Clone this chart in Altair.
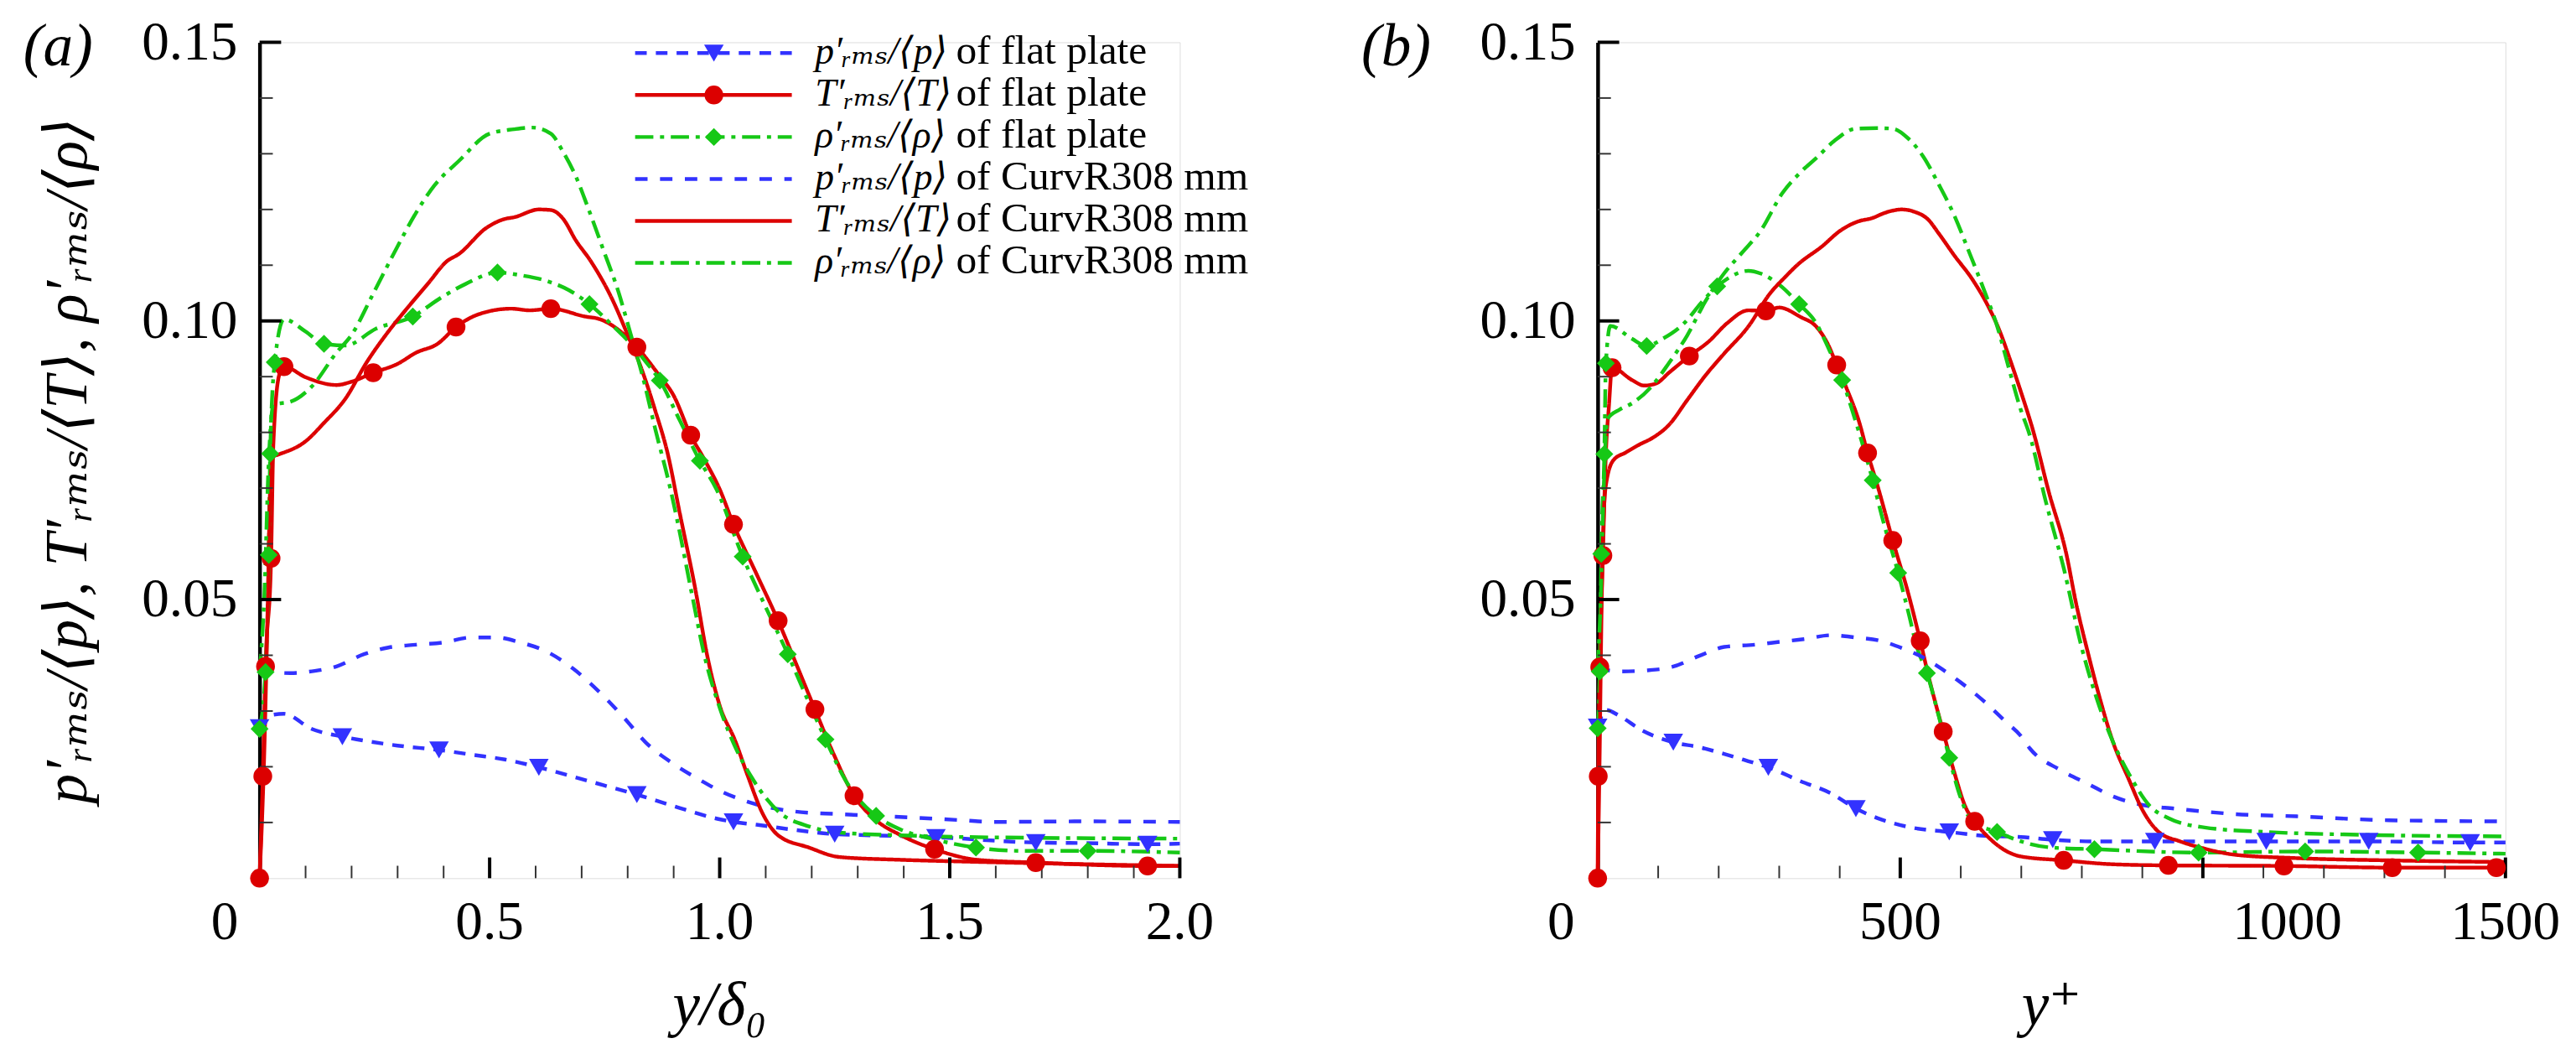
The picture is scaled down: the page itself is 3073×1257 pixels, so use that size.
import altair as alt
import pandas as pd

# ---------------- series meta ----------------
SERIES = ["p flat", "T flat", "rho flat", "p curv", "T curv", "rho curv"]
COLORS = ["#3232ff", "#dc0000", "#16c816", "#3232ff", "#dc0000", "#16c816"]
DASHES = [[14, 11], [1, 0], [22, 8, 5, 8], [15, 15], [1, 0], [22, 8, 5, 8]]
WIDTHS = [4.5, 4.5, 4.5, 3.0, 3.0, 3.0]
FLAT = ["p flat", "T flat", "rho flat"]
SHAPES = ["triangle-down", "circle", "diamond"]
MSIZES = [560, 470, 400]
LEG_MATH = ["p′ᵣₘₛ/⟨p⟩", "T′ᵣₘₛ/⟨T⟩", "ρ′ᵣₘₛ/⟨ρ⟩", "p′ᵣₘₛ/⟨p⟩", "T′ᵣₘₛ/⟨T⟩", "ρ′ᵣₘₛ/⟨ρ⟩"]
LEG_DESC = ["of flat plate", "of flat plate", "of flat plate",
            "of CurvR308 mm", "of CurvR308 mm", "of CurvR308 mm"]

# ---------------- panel (a): y/delta0 ----------------
A_P_FLAT_X = [0.0, 0.02, 0.053, 0.113, 0.18, 0.233, 0.3, 0.39, 0.467, 0.533, 0.607, 0.7, 0.747, 0.82, 0.913, 0.993, 1.03, 1.08, 1.16, 1.25, 1.327, 1.46, 1.687, 1.79, 1.93, 2.0]
A_P_FLAT_Y = [0.027, 0.0292, 0.0295, 0.0268, 0.0254, 0.0246, 0.0238, 0.023, 0.0221, 0.0213, 0.0199, 0.0178, 0.0167, 0.015, 0.0126, 0.0107, 0.0101, 0.0096, 0.0087, 0.0079, 0.0077, 0.0074, 0.0064, 0.0063, 0.0061, 0.0062]
A_P_FLAT_MX = [0.0, 0.18, 0.39, 0.607, 0.82, 1.03, 1.25, 1.47, 1.687, 1.93]
A_P_FLAT_MY = [0.027, 0.0254, 0.023, 0.0199, 0.015, 0.0101, 0.0079, 0.0073, 0.0064, 0.0061]

A_T_FLAT_X = [0.0, 0.007, 0.013, 0.025, 0.03, 0.043, 0.053, 0.1, 0.167, 0.2, 0.247, 0.3, 0.34, 0.387, 0.427, 0.473, 0.547, 0.587, 0.633, 0.707, 0.74, 0.78, 0.82, 0.867, 0.9, 0.937, 0.967, 1.0, 1.03, 1.08, 1.127, 1.167, 1.207, 1.247, 1.292, 1.34, 1.394, 1.467, 1.56, 1.687, 1.93, 2.0]
A_T_FLAT_Y = [0.0, 0.0183, 0.038, 0.0574, 0.078, 0.0904, 0.0918, 0.0899, 0.0885, 0.0891, 0.0907, 0.0923, 0.0943, 0.0959, 0.0989, 0.1011, 0.1022, 0.1019, 0.1022, 0.1008, 0.1003, 0.0984, 0.0953, 0.0904, 0.0866, 0.0795, 0.0751, 0.0698, 0.0635, 0.0546, 0.0462, 0.0383, 0.0303, 0.0224, 0.0148, 0.0104, 0.0077, 0.0052, 0.0033, 0.0028, 0.0022, 0.0022]
A_T_FLAT_MX = [0.0, 0.007, 0.013, 0.025, 0.053, 0.247, 0.427, 0.633, 0.82, 0.937, 1.03, 1.127, 1.207, 1.292, 1.467, 1.687, 1.93]
A_T_FLAT_MY = [0.0, 0.0183, 0.038, 0.0574, 0.0918, 0.0907, 0.0989, 0.1022, 0.0953, 0.0795, 0.0635, 0.0462, 0.0303, 0.0148, 0.0052, 0.0028, 0.0022]

A_R_FLAT_X = [0.0, 0.013, 0.02, 0.023, 0.033, 0.053, 0.1, 0.14, 0.187, 0.253, 0.333, 0.393, 0.447, 0.517, 0.567, 0.627, 0.673, 0.717, 0.767, 0.807, 0.84, 0.87, 0.913, 0.957, 0.993, 1.05, 1.094, 1.148, 1.187, 1.23, 1.274, 1.307, 1.34, 1.394, 1.46, 1.557, 1.66, 1.8, 2.0]
A_R_FLAT_Y = [0.0268, 0.037, 0.058, 0.0762, 0.0926, 0.1003, 0.0981, 0.0959, 0.0956, 0.0986, 0.1008, 0.1041, 0.1066, 0.1087, 0.1082, 0.1071, 0.1055, 0.103, 0.0992, 0.0959, 0.0926, 0.0893, 0.0822, 0.0749, 0.0698, 0.0577, 0.0497, 0.0402, 0.0328, 0.0249, 0.0175, 0.0137, 0.0112, 0.0087, 0.0071, 0.0055, 0.0049, 0.0049, 0.0046]
A_R_FLAT_MX = [0.0, 0.013, 0.02, 0.023, 0.033, 0.14, 0.333, 0.517, 0.717, 0.87, 0.957, 1.05, 1.148, 1.23, 1.34, 1.557, 1.8]
A_R_FLAT_MY = [0.0268, 0.037, 0.058, 0.0762, 0.0926, 0.0959, 0.1008, 0.1087, 0.103, 0.0893, 0.0749, 0.0577, 0.0402, 0.0249, 0.0112, 0.0055, 0.0049]

A_P_CURV_X = [0.0, 0.067, 0.12, 0.167, 0.227, 0.28, 0.34, 0.4, 0.46, 0.513, 0.567, 0.623, 0.68, 0.74, 0.793, 0.84, 0.9, 0.96, 1.0, 1.074, 1.16, 1.26, 1.39, 1.527, 1.594, 1.79, 2.0]
A_P_CURV_Y = [0.0372, 0.0368, 0.0372, 0.038, 0.0402, 0.0414, 0.0419, 0.0423, 0.0432, 0.0432, 0.0423, 0.0407, 0.0377, 0.0333, 0.0287, 0.0243, 0.0205, 0.0175, 0.0157, 0.0134, 0.012, 0.0115, 0.011, 0.0104, 0.0101, 0.0102, 0.0101]

A_T_CURV_X = [0.0, 0.01, 0.018, 0.023, 0.03, 0.04, 0.1, 0.14, 0.187, 0.233, 0.28, 0.32, 0.367, 0.407, 0.433, 0.493, 0.533, 0.553, 0.607, 0.633, 0.66, 0.687, 0.72, 0.767, 0.8, 0.827, 0.86, 0.887, 0.913, 0.947, 0.973, 1.0, 1.034, 1.06, 1.094, 1.127, 1.194, 1.26, 1.394, 1.527, 2.0]
A_T_CURV_Y = [0.0, 0.022, 0.05, 0.0698, 0.0757, 0.076, 0.0784, 0.0817, 0.0861, 0.0926, 0.0981, 0.1022, 0.1068, 0.1107, 0.112, 0.1167, 0.1183, 0.1186, 0.12, 0.1199, 0.1183, 0.1145, 0.1107, 0.1038, 0.0975, 0.0921, 0.0839, 0.0762, 0.0656, 0.0519, 0.0399, 0.031, 0.0246, 0.0186, 0.0115, 0.0077, 0.0055, 0.0038, 0.0033, 0.003, 0.0022]

A_R_CURV_X = [0.0, 0.01, 0.02, 0.03, 0.067, 0.113, 0.167, 0.2, 0.247, 0.3, 0.34, 0.38, 0.433, 0.5, 0.553, 0.593, 0.633, 0.66, 0.687, 0.713, 0.747, 0.78, 0.807, 0.833, 0.86, 0.893, 0.907, 0.94, 0.967, 1.0, 1.034, 1.074, 1.127, 1.194, 1.26, 1.394, 1.527, 2.0]
A_R_CURV_Y = [0.037, 0.05, 0.075, 0.085, 0.0855, 0.0882, 0.0943, 0.0975, 0.1049, 0.1134, 0.1194, 0.1243, 0.1287, 0.1336, 0.1344, 0.1347, 0.1336, 0.1303, 0.126, 0.1205, 0.1128, 0.1052, 0.0975, 0.0899, 0.0806, 0.0698, 0.0645, 0.0508, 0.0399, 0.0306, 0.0235, 0.0175, 0.012, 0.0093, 0.0082, 0.0077, 0.0074, 0.0071]

# ---------------- panel (b): y+ ----------------
B_P_FLAT_X = [0, 13.7, 36.5, 72, 125, 168, 209, 249, 282, 335.5, 386, 426.7, 462, 513, 581, 640, 699.5, 752, 826, 920.7, 1104.7, 1274, 1441.7, 1500]
B_P_FLAT_Y = [0.0271, 0.0302, 0.0291, 0.0266, 0.0244, 0.0235, 0.0223, 0.021, 0.0199, 0.0174, 0.0152, 0.0125, 0.0108, 0.0092, 0.0083, 0.0076, 0.0074, 0.0069, 0.0066, 0.0066, 0.0066, 0.0066, 0.0064, 0.0064]
B_P_FLAT_MX = [0, 125, 282, 426.7, 581, 752, 920.7, 1104.7, 1274, 1441.7]
B_P_FLAT_MY = [0.0271, 0.0244, 0.0199, 0.0125, 0.0083, 0.0069, 0.0066, 0.0066, 0.0066, 0.0064]

B_T_FLAT_X = [0, 1, 3.5, 8.6, 13.6, 18.6, 23.8, 56.7, 77, 97, 117.7, 151.5, 183.5, 214, 249, 278, 300, 335.5, 361, 381, 395, 411, 432, 446, 462, 487.6, 513, 533, 548, 571, 589, 609, 623, 650, 699.6, 770, 851, 943, 1134, 1313, 1485, 1500]
B_T_FLAT_Y = [0, 0.0183, 0.0379, 0.0579, 0.0763, 0.0847, 0.0916, 0.0894, 0.0884, 0.0888, 0.0907, 0.0937, 0.0963, 0.0996, 0.1019, 0.1018, 0.1024, 0.1007, 0.099, 0.0957, 0.0921, 0.088, 0.0819, 0.0763, 0.0706, 0.0606, 0.0512, 0.0426, 0.0357, 0.0263, 0.0191, 0.0125, 0.0102, 0.0069, 0.0039, 0.0032, 0.0025, 0.0023, 0.0022, 0.0019, 0.0019, 0.0019]
B_T_FLAT_MX = [0, 1, 3.5, 8.6, 23.8, 151.5, 278, 395, 446, 487.6, 533, 571, 623, 770, 943, 1134, 1313, 1485]
B_T_FLAT_MY = [0, 0.0183, 0.0379, 0.0579, 0.0916, 0.0937, 0.1018, 0.0921, 0.0763, 0.0606, 0.0426, 0.0263, 0.0102, 0.0032, 0.0023, 0.0022, 0.0019, 0.0019]

B_R_FLAT_X = [0, 3.5, 6, 11, 13.6, 21, 56.7, 81, 107.4, 143, 173, 197.5, 219, 249, 269.5, 300, 333, 361, 381, 404, 426.5, 442, 454.5, 472, 496.6, 513, 528, 544, 563.6, 581, 599, 619, 660, 699.5, 750, 820.8, 993, 1169, 1355.6, 1500]
B_R_FLAT_Y = [0.0269, 0.0371, 0.0582, 0.0761, 0.0924, 0.0991, 0.0968, 0.0955, 0.0968, 0.0996, 0.1035, 0.1062, 0.1079, 0.109, 0.1085, 0.1065, 0.103, 0.0996, 0.0952, 0.0894, 0.0819, 0.0763, 0.0714, 0.064, 0.0548, 0.0479, 0.0413, 0.0368, 0.0291, 0.0216, 0.0147, 0.0102, 0.0083, 0.0066, 0.0055, 0.0052, 0.0046, 0.0048, 0.0046, 0.0044]
B_R_FLAT_MX = [0, 3.5, 6, 11, 13.6, 81, 197.5, 333, 404, 454.5, 496.6, 544, 581, 660, 820.8, 993, 1169, 1355.6]
B_R_FLAT_MY = [0.0269, 0.0371, 0.0582, 0.0761, 0.0924, 0.0955, 0.1062, 0.103, 0.0894, 0.0714, 0.0548, 0.0368, 0.0216, 0.0083, 0.0052, 0.0046, 0.0048, 0.0046]

B_P_CURV_X = [0, 36.5, 82, 122.6, 168, 209, 259.5, 300, 340.6, 386, 426.7, 467, 502.6, 538, 563.6, 599, 640, 675, 699.5, 714, 765, 810.7, 851, 902, 952.6, 1054, 1155, 1307, 1500]
B_P_CURV_Y = [0.0377, 0.0371, 0.0373, 0.0379, 0.0399, 0.0415, 0.0419, 0.0424, 0.0429, 0.0436, 0.0432, 0.0426, 0.0413, 0.0396, 0.0379, 0.0352, 0.0316, 0.028, 0.0255, 0.0233, 0.0194, 0.0169, 0.0147, 0.0131, 0.0125, 0.0115, 0.0111, 0.0104, 0.0102]

B_T_CURV_X = [0, 3, 6, 9, 13.7, 26, 46.6, 67, 92, 117.5, 148, 178, 208.7, 249, 284.6, 310, 330.5, 371, 401, 431.6, 452, 477.4, 502.6, 523, 546, 563.6, 589, 619.5, 645, 665, 680, 699, 719, 745, 775, 790, 810.7, 831, 851, 876.6, 902, 927, 962.7, 1003, 1054, 1155, 1307, 1500]
B_T_CURV_Y = [0, 0.02, 0.045, 0.062, 0.0706, 0.075, 0.0764, 0.0777, 0.0791, 0.0813, 0.0858, 0.0902, 0.0941, 0.099, 0.1049, 0.1079, 0.1101, 0.1134, 0.1162, 0.1179, 0.1184, 0.1195, 0.12, 0.1196, 0.1182, 0.1157, 0.1118, 0.1074, 0.1027, 0.098, 0.0935, 0.0874, 0.0805, 0.0695, 0.0579, 0.0496, 0.0402, 0.0318, 0.0246, 0.018, 0.0119, 0.0083, 0.0066, 0.0053, 0.0042, 0.0036, 0.0032, 0.0029]

B_R_CURV_X = [0, 5, 10, 16, 36.5, 56.7, 87, 117.5, 148, 178, 208.7, 239, 269.5, 305, 335.5, 361, 391, 426.6, 462, 487.5, 512.6, 538, 563.6, 589, 614, 640, 660, 680, 699, 714, 740, 770, 800, 826, 851, 881.6, 912, 942.5, 1003, 1105, 1257, 1500]
B_R_CURV_Y = [0.0377, 0.05, 0.07, 0.0824, 0.0841, 0.0852, 0.088, 0.0924, 0.0974, 0.1035, 0.1085, 0.1123, 0.1162, 0.1229, 0.1267, 0.1292, 0.1323, 0.1345, 0.1346, 0.1345, 0.1328, 0.1295, 0.1245, 0.119, 0.1123, 0.1051, 0.0991, 0.0913, 0.0841, 0.0795, 0.0678, 0.0557, 0.0413, 0.0318, 0.0246, 0.018, 0.013, 0.0108, 0.0091, 0.0083, 0.0078, 0.0075]

# ---------------- ticks and tick labels ----------------
A_XMAJ = [0.5, 1.0, 1.5, 2.0]
A_XMIN = [0.1, 0.2, 0.3, 0.4, 0.6, 0.7, 0.8, 0.9, 1.1, 1.2, 1.3, 1.4, 1.6, 1.7, 1.8, 1.9]
A_XLAB = [0.0, 0.5, 1.0, 1.5, 2.0]
# label groups: (values, texts, pixel shift) -- the original draws "0" left of the axis
A_XLABELS = [([0.5, 1.0, 1.5, 2.0], ["0.5", "1.0", "1.5", "2.0"], 0),
             ([0.0], ["0"], -42)]
B_XMAJ = [500, 1000, 1500]
B_XMIN = [100, 200, 300, 400, 600, 700, 800, 900, 1100, 1200, 1300, 1400]
B_XLAB = [0, 500, 1000, 1500]
# ... and "1000" right of its tick
B_XLABELS = [([500, 1500], ["500", "1500"], 0),
             ([0], ["0"], -44),
             ([1000], ["1000"], 102)]
Y_MAJ = [0.05, 0.10, 0.15]
Y_MIN = [0.01, 0.02, 0.03, 0.04, 0.06, 0.07, 0.08, 0.09, 0.11, 0.12, 0.13, 0.14]

FONT = "Liberation Serif, DejaVu Serif, Noto Sans, serif"
H = 1008


def long_df(items):
    rows = []
    for name, xs, ys in items:
        for i, (xv, yv) in enumerate(zip(xs, ys)):
            rows.append({"series": name, "x": xv, "y": yv, "i": i})
    return pd.DataFrame(rows)


color_enc = alt.Color("series:N", scale=alt.Scale(domain=SERIES, range=COLORS), legend=None)
dash_enc = alt.StrokeDash("series:N", scale=alt.Scale(domain=SERIES, range=DASHES), legend=None)
width_enc = alt.StrokeWidth("series:O", scale=alt.Scale(domain=SERIES, range=WIDTHS), legend=None)
shape_enc = alt.Shape("series:N", scale=alt.Scale(domain=FLAT, range=SHAPES), legend=None)
size_enc = alt.Size("series:O", scale=alt.Scale(domain=FLAT, range=MSIZES), legend=None)


def panel(lines, marks, xdom, width, xmaj, xmin, xlab, xlabels,
          xtitle, ytitle, tag, legend):
    xsc = alt.Scale(domain=xdom, nice=False, zero=False)
    ysc = alt.Scale(domain=[0, 0.15], nice=False, zero=False)
    xaxis = alt.Axis(values=xlab, labels=False, ticks=False, grid=False,
                     domainColor="black", domainWidth=4.5, title="")
    yaxis = alt.Axis(values=Y_MAJ, format=".2f", ticks=False, grid=False,
                     domainColor="black", domainWidth=4.5,
                     labelFont=FONT, labelFontSize=66, labelColor="black",
                     labelPadding=27, labelFlush=False, labelOverlap=False,
                     labelBaseline="middle",
                     title=ytitle, titleFont=FONT, titleFontSize=72,
                     titleFontStyle="italic", titleFontWeight="normal",
                     titleColor="black", titlePadding=52)

    ldf = long_df(lines)
    mdf = long_df(marks)

    layers = []
    layers.append(alt.Chart(ldf).mark_line(interpolate="monotone").encode(
        x=alt.X("x:Q", scale=xsc, axis=xaxis),
        y=alt.Y("y:Q", scale=ysc, axis=yaxis),
        color=color_enc, strokeDash=dash_enc, strokeWidth=width_enc,
        detail="series:N", order="i:Q"))
    # inward minor / major ticks
    layers.append(alt.Chart(pd.DataFrame({"x": xmin})).mark_rule(color="#333333", strokeWidth=2).encode(
        x=alt.X("x:Q", scale=xsc, axis=None), y=alt.value(H), y2=alt.value(H - 15)))
    layers.append(alt.Chart(pd.DataFrame({"x": xmaj})).mark_rule(color="black", strokeWidth=4).encode(
        x=alt.X("x:Q", scale=xsc, axis=None), y=alt.value(H), y2=alt.value(H - 25)))
    layers.append(alt.Chart(pd.DataFrame({"y": Y_MIN})).mark_rule(color="#333333", strokeWidth=2).encode(
        y=alt.Y("y:Q", scale=ysc, axis=None), x=alt.value(0), x2=alt.value(16)))
    layers.append(alt.Chart(pd.DataFrame({"y": Y_MAJ})).mark_rule(color="black", strokeWidth=4).encode(
        y=alt.Y("y:Q", scale=ysc, axis=None), x=alt.value(0), x2=alt.value(26)))
    # x tick labels, placed through the x scale
    for vals, txts, shift in xlabels:
        layers.append(alt.Chart(pd.DataFrame({"x": vals, "txt": txts})).mark_text(
            align="center", baseline="alphabetic", font=FONT, fontSize=66,
            color="black", dx=shift).encode(
            x=alt.X("x:Q", scale=xsc, axis=None), y=alt.value(H + 73), text="txt:N"))
    # x axis title
    layers.append(alt.Chart(pd.DataFrame({"t": [xtitle]})).mark_text(
        align="center", baseline="alphabetic", font=FONT, fontSize=74,
        fontStyle="italic", color="black").encode(
        x=alt.value(width / 2), y=alt.value(H + 177), text="t:N"))

    layers.append(alt.Chart(mdf).mark_point(filled=True, opacity=1).encode(
        x=alt.X("x:Q", scale=xsc, axis=None),
        y=alt.Y("y:Q", scale=ysc, axis=None),
        color=color_enc, shape=shape_enc, size=size_enc))

    # panel tag "(a)" / "(b)"
    layers.append(alt.Chart(pd.DataFrame({"t": [tag]})).mark_text(
        align="left", baseline="alphabetic", font=FONT, fontSize=72,
        fontStyle="italic", color="black").encode(
        x=alt.value(-285), y=alt.value(28), text="t:N"))

    if legend:
        leg = pd.DataFrame({"row": list(range(6)), "series": SERIES,
                            "math": LEG_MATH, "desc": LEG_DESC})
        leg_y = alt.Y("row:Q", scale=alt.Scale(domain=[0, 5], range=[13, 266]), axis=None)
        layers.append(alt.Chart(leg).mark_rule().encode(
            x=alt.value(453), x2=alt.value(642), y=leg_y,
            color=color_enc, strokeDash=dash_enc, strokeWidth=width_enc))
        layers.append(alt.Chart(leg.iloc[:3]).mark_point(filled=True, opacity=1).encode(
            x=alt.value(548), y=leg_y, color=color_enc, shape=shape_enc, size=size_enc))
        layers.append(alt.Chart(leg).mark_text(align="left", baseline="alphabetic", dy=13,
                                               font=FONT, fontSize=46, fontStyle="italic",
                                               color="black").encode(
            x=alt.value(670), y=leg_y, text="math:N"))
        layers.append(alt.Chart(leg).mark_text(align="left", baseline="alphabetic", dy=13,
                                               font=FONT, fontSize=50, color="black").encode(
            x=alt.value(840), y=leg_y, text="desc:N"))

    return alt.layer(*layers).resolve_scale(y="independent").properties(width=width, height=H)


panel_a = panel(
    lines=[("p flat", A_P_FLAT_X, A_P_FLAT_Y), ("T flat", A_T_FLAT_X, A_T_FLAT_Y),
           ("rho flat", A_R_FLAT_X, A_R_FLAT_Y), ("p curv", A_P_CURV_X, A_P_CURV_Y),
           ("T curv", A_T_CURV_X, A_T_CURV_Y), ("rho curv", A_R_CURV_X, A_R_CURV_Y)],
    marks=[("p flat", A_P_FLAT_MX, A_P_FLAT_MY), ("T flat", A_T_FLAT_MX, A_T_FLAT_MY),
           ("rho flat", A_R_FLAT_MX, A_R_FLAT_MY)],
    xdom=[0, 2.0], width=1110, xmaj=A_XMAJ, xmin=A_XMIN, xlab=A_XLAB, xlabels=A_XLABELS,
    xtitle="y/δ₀", ytitle="p′ᵣₘₛ/⟨p⟩, T′ᵣₘₛ/⟨T⟩, ρ′ᵣₘₛ/⟨ρ⟩", tag="(a)", legend=True)

panel_b = panel(
    lines=[("p flat", B_P_FLAT_X, B_P_FLAT_Y), ("T flat", B_T_FLAT_X, B_T_FLAT_Y),
           ("rho flat", B_R_FLAT_X, B_R_FLAT_Y), ("p curv", B_P_CURV_X, B_P_CURV_Y),
           ("T curv", B_T_CURV_X, B_T_CURV_Y), ("rho curv", B_R_CURV_X, B_R_CURV_Y)],
    marks=[("p flat", B_P_FLAT_MX, B_P_FLAT_MY), ("T flat", B_T_FLAT_MX, B_T_FLAT_MY),
           ("rho flat", B_R_FLAT_MX, B_R_FLAT_MY)],
    xdom=[0, 1500], width=1095, xmaj=B_XMAJ, xmin=B_XMIN, xlab=B_XLAB, xlabels=B_XLABELS,
    xtitle="y⁺", ytitle="", tag="(b)", legend=False)

chart = alt.hconcat(panel_a, panel_b, spacing=134).properties(
    padding={"left": 19, "top": 2, "right": 10, "bottom": 5}
).configure_view(stroke=None).configure(background="white")

chart.save("out.html", embed_options={"renderer": "svg", "actions": False})
